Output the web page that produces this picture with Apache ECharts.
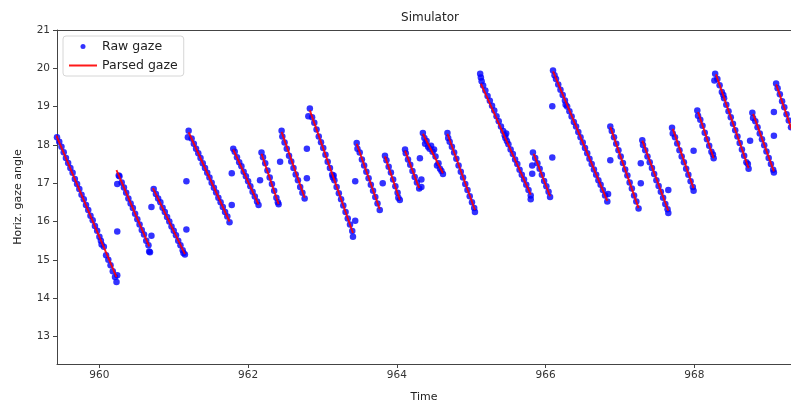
<!DOCTYPE html>
<html>
<head>
<meta charset="utf-8">
<title>Simulator</title>
<script src="https://cdn.jsdelivr.net/npm/echarts@6/dist/echarts.min.js"></script>
<style>
  html, body { margin: 0; padding: 0; background: #fff; }
  #chart { width: 791px; height: 408px; }
</style>
</head>
<body>
<div id="chart"></div>
<script>
// tick labels
const xTicks = [960, 962, 964, 966, 968]
const yTicks = [13, 14, 15, 16, 17, 18, 19, 20, 21]

// parsed gaze: slow-phase segments (start / end)
const segStartT = [959.42, 960.23, 960.72, 961.20, 961.80, 962.18, 962.45, 962.83, 963.46, 963.84, 964.11, 964.35,
  964.68, 965.13, 965.84, 966.10, 966.87, 967.30, 967.71, 968.05, 968.29, 968.79, 969.10]
const segStartY = [18.25, 17.34, 16.87, 18.33, 17.88, 17.77, 18.34, 18.90, 18.03, 17.70, 17.85, 18.29,
  18.29, 19.60, 17.77, 19.92, 18.47, 18.11, 18.42, 18.86, 19.84, 18.81, 19.58]
const segEndT = [960.23, 960.67, 961.15, 961.75, 962.14, 962.41, 962.76, 963.41, 963.77, 964.04, 964.30, 964.62,
  965.05, 965.80, 966.06, 966.83, 967.25, 967.65, 967.99, 968.26, 968.73, 969.07, 969.40]
const segEndY = [14.55, 15.35, 15.15, 16.00, 16.45, 16.45, 16.62, 15.70, 16.32, 16.56, 16.87, 17.26,
  16.30, 16.70, 16.66, 16.54, 16.35, 16.28, 16.87, 17.65, 17.39, 17.31, 17.90]

// raw gaze samples [time, angle]
const rawGaze = [
  [959.43,18.20],[959.46,18.08],[959.49,17.95],[959.52,17.81],[959.55,17.66],[959.58,17.53],[959.61,17.40],[959.64,17.27],
  [959.67,17.11],[959.70,16.98],[959.73,16.85],[959.76,16.70],[959.79,16.58],[959.82,16.43],[959.85,16.30],[959.88,16.15],
  [959.91,16.03],[959.94,15.88],[959.97,15.76],[960.00,15.60],[960.02,15.50],[960.03,15.40],[960.06,15.34],[960.09,15.12],
  [960.12,15.00],[960.15,14.86],[960.18,14.70],[960.21,14.55],[960.23,14.42],[960.24,14.60],
  [960.24,15.74],[960.24,16.98],[960.26,17.20],
  [960.27,17.18],[960.30,17.02],[960.33,16.89],[960.36,16.75],[960.39,16.60],[960.42,16.47],[960.45,16.35],[960.48,16.20],
  [960.51,16.06],[960.54,15.92],[960.57,15.78],[960.60,15.66],[960.63,15.50],[960.66,15.38],[960.67,15.22],[960.68,15.20],
  [960.70,15.63],[960.70,16.38],
  [960.73,16.85],[960.76,16.72],[960.79,16.60],[960.82,16.50],[960.85,16.36],[960.88,16.25],[960.91,16.12],[960.94,16.00],
  [960.97,15.87],[961.00,15.76],[961.03,15.64],[961.06,15.50],[961.09,15.38],[961.12,15.25],[961.15,15.14],[961.13,15.18],
  [961.17,15.79],[961.17,17.05],
  [961.20,18.37],[961.19,18.20],[961.24,18.17],[961.27,18.03],[961.30,17.90],[961.33,17.78],[961.36,17.66],[961.39,17.52],
  [961.42,17.40],[961.45,17.27],[961.48,17.15],[961.51,17.01],[961.54,16.88],[961.57,16.76],[961.60,16.62],[961.63,16.50],
  [961.66,16.38],[961.69,16.25],[961.72,16.13],[961.75,15.98],
  [961.78,16.43],[961.78,17.26],
  [961.80,17.90],[961.82,17.82],[961.85,17.68],[961.88,17.55],[961.91,17.44],[961.94,17.30],[961.97,17.18],[962.00,17.05],
  [962.03,16.92],[962.06,16.78],[962.09,16.65],[962.12,16.52],[962.14,16.43],
  [962.16,17.08],
  [962.18,17.80],[962.20,17.68],[962.23,17.52],[962.26,17.33],[962.29,17.15],[962.32,16.98],[962.35,16.80],[962.38,16.62],
  [962.41,16.45],[962.40,16.50],
  [962.43,17.56],
  [962.45,18.37],[962.46,18.22],[962.49,18.06],[962.52,17.90],[962.55,17.72],[962.58,17.57],[962.61,17.40],[962.64,17.23],
  [962.67,17.08],[962.70,16.90],[962.73,16.75],[962.76,16.60],
  [962.79,17.13],[962.79,17.90],
  [962.83,18.95],[962.81,18.75],[962.86,18.72],[962.89,18.58],[962.92,18.40],[962.95,18.22],[962.98,18.07],[963.01,17.92],
  [963.04,17.74],[963.07,17.56],[963.10,17.40],[963.13,17.22],[963.14,17.15],[963.15,17.20],[963.16,17.08],[963.19,16.90],
  [963.22,16.74],[963.25,16.58],[963.28,16.42],[963.31,16.25],[963.34,16.08],[963.37,15.92],[963.40,15.75],[963.41,15.60],
  [963.44,16.02],[963.44,17.05],
  [963.46,18.05],[963.47,17.90],[963.50,17.80],[963.53,17.62],[963.56,17.46],[963.59,17.30],[963.62,17.13],[963.65,16.96],
  [963.68,16.80],[963.71,16.64],[963.74,16.47],[963.77,16.30],
  [963.81,17.00],
  [963.84,17.72],[963.86,17.60],[963.89,17.43],[963.92,17.28],[963.95,17.10],[963.98,16.92],[964.01,16.75],[964.04,16.56],
  [964.02,16.62],
  [964.11,17.88],[964.12,17.78],[964.15,17.62],[964.18,17.48],[964.21,17.32],[964.24,17.16],[964.27,17.02],[964.30,16.86],
  [964.31,17.65],[964.33,17.10],[964.33,16.90],
  [964.35,18.31],[964.37,18.18],[964.38,18.03],[964.40,18.10],[964.42,17.95],[964.44,17.90],[964.46,17.98],[964.48,17.82],
  [964.50,17.88],[964.52,17.70],[964.54,17.46],[964.56,17.52],[964.58,17.38],[964.60,17.32],[964.62,17.24],
  [964.68,18.31],[964.69,18.18],[964.71,18.08],[964.74,17.95],[964.77,17.80],[964.80,17.64],[964.83,17.46],[964.86,17.30],
  [964.89,17.15],[964.92,16.98],[964.95,16.82],[964.98,16.66],[965.01,16.50],[965.04,16.35],[965.05,16.25],
  [965.12,19.86],[965.13,19.76],[965.14,19.66],[965.16,19.55],[965.19,19.42],[965.22,19.28],[965.25,19.15],[965.28,19.02],
  [965.31,18.90],[965.34,18.75],[965.37,18.62],[965.40,18.48],[965.43,18.36],[965.45,18.25],[965.46,18.18],[965.47,18.30],
  [965.48,18.10],[965.50,18.02],[965.53,17.88],[965.56,17.76],[965.59,17.62],[965.62,17.50],[965.65,17.35],[965.68,17.22],
  [965.71,17.10],[965.74,16.96],[965.77,16.82],[965.80,16.68],[965.80,16.58],
  [965.82,17.46],[965.82,17.25],
  [965.83,17.80],[965.86,17.66],[965.89,17.52],[965.92,17.38],[965.95,17.22],[965.98,17.06],[966.01,16.92],[966.04,16.78],
  [966.06,16.64],
  [966.09,17.67],[966.09,19.01],
  [966.10,19.94],[966.12,19.82],[966.14,19.72],[966.17,19.58],[966.20,19.44],[966.23,19.30],[966.26,19.16],[966.27,19.05],
  [966.29,19.00],[966.32,18.88],[966.35,18.74],[966.38,18.60],[966.41,18.48],[966.44,18.34],[966.47,18.20],[966.50,18.06],
  [966.53,17.92],[966.56,17.78],[966.59,17.64],[966.62,17.50],[966.65,17.36],[966.68,17.22],[966.71,17.08],[966.74,16.96],
  [966.77,16.82],[966.80,16.68],[966.83,16.52],[966.84,16.72],
  [966.87,17.60],
  [966.87,18.48],[966.89,18.36],[966.92,18.20],[966.95,18.03],[966.98,17.86],[967.01,17.70],[967.04,17.53],[967.07,17.36],
  [967.10,17.20],[967.13,17.02],[967.16,16.86],[967.19,16.68],[967.22,16.52],[967.25,16.34],
  [967.28,17.52],[967.28,17.00],
  [967.30,18.12],[967.31,18.00],[967.34,17.86],[967.37,17.70],[967.40,17.55],[967.43,17.40],[967.46,17.24],[967.49,17.08],
  [967.52,16.93],[967.55,16.78],[967.58,16.62],[967.61,16.46],[967.64,16.32],[967.65,16.22],
  [967.65,16.82],
  [967.70,18.45],[967.71,18.30],[967.74,18.20],[967.77,18.04],[967.80,17.86],[967.83,17.70],[967.86,17.55],[967.89,17.38],
  [967.92,17.22],[967.95,17.05],[967.98,16.90],[967.99,16.80],
  [967.99,17.85],
  [968.04,18.90],[968.05,18.76],[968.08,18.66],[968.11,18.50],[968.14,18.32],[968.17,18.15],[968.20,17.98],[968.23,17.82],
  [968.26,17.65],[968.25,17.75],
  [968.28,19.86],[968.27,19.68],[968.31,19.72],[968.34,19.56],[968.37,19.38],[968.39,19.30],[968.40,19.22],[968.43,19.05],
  [968.46,18.88],[968.49,18.72],[968.52,18.55],[968.55,18.38],[968.58,18.22],[968.61,18.05],[968.64,17.88],[968.67,17.72],
  [968.70,17.55],[968.73,17.38],[968.72,17.50],
  [968.75,18.11],
  [968.78,18.84],[968.79,18.70],[968.82,18.62],[968.85,18.46],[968.88,18.30],[968.91,18.15],[968.94,17.99],[968.97,17.83],
  [969.00,17.66],[969.03,17.50],[969.06,17.35],[969.07,17.28],
  [969.07,18.24],[969.07,18.86],
  [969.10,19.60],[969.12,19.48],[969.15,19.32],[969.18,19.14],[969.21,18.98],[969.24,18.80],[969.27,18.64],[969.30,18.46],
  [969.33,18.30]
]

const font = 'DejaVu Sans, sans-serif'
const xMin = 959.43
const xMax = 969.30
const chart = echarts.init(document.getElementById('chart'), null, { renderer: 'canvas' })

const parsedSeries = segStartT.map((t0, i) => ({
  name: 'Parsed gaze',
  type: 'line',
  symbol: 'none',
  z: 3,
  data: [[t0, segStartY[i]], [segEndT[i], segEndY[i]]],
  lineStyle: { color: '#ff0000', width: 1.9, opacity: 0.9 },
  itemStyle: { color: '#ff0000' },
  silent: true,
}))

chart.setOption({
  animation: false,
  backgroundColor: '#fff',
  title: {
    text: 'Simulator',
    left: 425,
    top: 7,
    textAlign: 'center',
    textStyle: { fontFamily: font, fontSize: 12, fontWeight: 'normal', color: '#222' },
  },
  legend: {
    left: 63,
    top: 36,
    orient: 'vertical',
    itemWidth: 28,
    itemHeight: 5,
    itemGap: 6,
    padding: [4, 6, 4, 5],
    borderColor: '#d6d6d6',
    borderWidth: 1,
    borderRadius: 3,
    backgroundColor: 'rgba(255,255,255,0.85)',
    textStyle: { fontFamily: font, fontSize: 12.5, color: '#222' },
    data: [
      { name: 'Raw gaze', icon: 'circle' },
      { name: 'Parsed gaze', itemStyle: { opacity: 0 }, lineStyle: { color: '#ff0000', width: 2 } },
    ],
  },
  grid: { left: 57, right: 0, top: 30, bottom: 40 },
  xAxis: [
    {
      type: 'value',
      min: xMin,
      max: xMax,
      name: 'Time',
      nameLocation: 'middle',
      nameGap: 28,
      nameTextStyle: { fontFamily: font, fontSize: 11, color: '#222' },
      axisLine: { show: true, lineStyle: { color: '#444' } },
      axisTick: { show: true, length: 4, customValues: xTicks, lineStyle: { color: '#444' } },
      axisLabel: { customValues: xTicks, margin: 6, fontFamily: font, fontSize: 10.5, color: '#333' },
      splitLine: { show: false },
    },
    {
      // top spine only
      type: 'value',
      position: 'top',
      min: xMin,
      max: xMax,
      axisLine: { show: true, lineStyle: { color: '#444' } },
      axisTick: { show: false },
      axisLabel: { show: false },
      splitLine: { show: false },
    },
  ],
  yAxis: {
    type: 'value',
    min: 12.28,
    max: 21,
    name: 'Horiz. gaze angle',
    nameLocation: 'middle',
    nameGap: 33,
    nameTextStyle: { fontFamily: font, fontSize: 11, color: '#222' },
    axisLine: { show: true, lineStyle: { color: '#444' } },
    axisTick: { show: true, length: 4, customValues: yTicks, lineStyle: { color: '#444' } },
    axisLabel: { customValues: yTicks, margin: 7, fontFamily: font, fontSize: 10.5, color: '#333' },
    splitLine: { show: false },
  },
  series: [
    {
      name: 'Raw gaze',
      type: 'scatter',
      symbol: 'circle',
      symbolSize: 6.5,
      z: 2,
      data: rawGaze,
      itemStyle: { color: '#0000ff', opacity: 0.8 },
      silent: true,
    },
    ...parsedSeries,
  ],
})
</script>
</body>
</html>
